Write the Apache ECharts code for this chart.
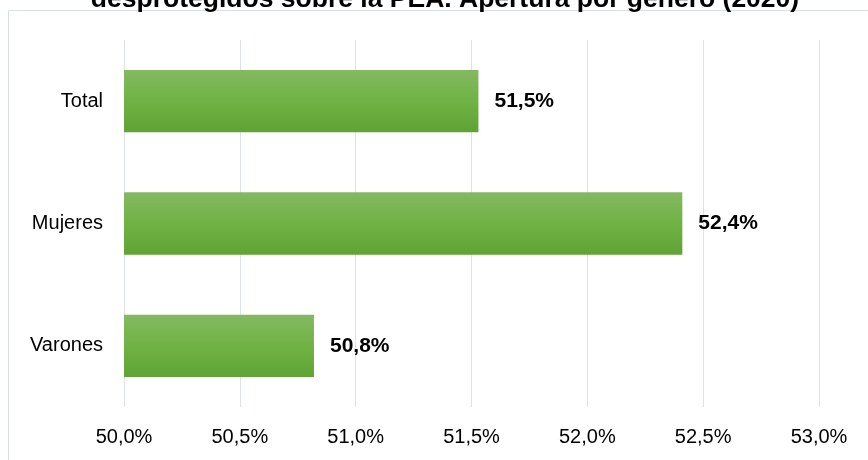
<!DOCTYPE html>
<html>
<head>
<meta charset="utf-8">
<script src="https://cdn.jsdelivr.net/npm/echarts@6/dist/echarts.min.js"></script>
<style>
  html, body { margin: 0; padding: 0; background: #ffffff; }
  #chart { width: 868px; height: 460px; }
</style>
</head>
<body>
<div id="chart"></div>
<script>
const categories = ['Varones', 'Mujeres', 'Total']
const values = [50.82, 52.41, 51.53]
const tickLabels = ['50,0%', '50,5%', '51,0%', '51,5%', '52,0%', '52,5%', '53,0%']

const chart = echarts.init(document.getElementById('chart'))

const barGradient = new echarts.graphic.LinearGradient(0, 0, 0, 1, [
  { offset: 0, color: '#83ba62' },
  { offset: 0.5, color: '#70b244' },
  { offset: 1, color: '#60a335' },
])

chart.setOption({
  animation: false,
  textStyle: { fontFamily: 'Liberation Sans, Arial, sans-serif' },
  title: {
    text: 'desprotegidos sobre la PEA. Apertura por género (2020)',
    left: 440,
    textAlign: 'center',
    top: -19,
    textStyle: {
      fontFamily: 'Liberation Sans, Arial, sans-serif',
      fontSize: 26.5,
      fontWeight: 'bold',
      color: '#000000',
    },
  },
  graphic: [
    {
      type: 'rect',
      silent: true,
      shape: { x: 8.5, y: 10.5, width: 900, height: 500 },
      style: { fill: 'none', stroke: '#d9dee8', lineWidth: 1 },
    },
  ],
  grid: {
    left: 124,
    right: 49,
    top: 40,
    bottom: 53,
  },
  xAxis: {
    type: 'value',
    min: 50,
    max: 53,
    interval: 0.5,
    axisLine: { show: false },
    axisTick: { show: false },
    splitLine: { lineStyle: { color: '#dde2ea', width: 1 } },
    axisLabel: {
      color: '#000000',
      fontSize: 20,
      margin: 20,
      formatter: (v) => tickLabels[Math.round((v - 50) / 0.5)],
    },
  },
  yAxis: {
    type: 'category',
    data: categories,
    axisLine: { show: false },
    axisTick: { show: false },
    axisLabel: { color: '#000000', fontSize: 20, margin: 21 },
  },
  series: [
    {
      type: 'bar',
      data: values,
      barCategoryGap: '49%',
      itemStyle: { color: barGradient },
      label: {
        show: true,
        position: 'right',
        distance: 16,
        color: '#000000',
        fontSize: 21,
        fontWeight: 'bold',
        formatter: (p) => p.value.toFixed(1).replace('.', ',') + '%',
      },
    },
  ],
})
</script>
</body>
</html>
